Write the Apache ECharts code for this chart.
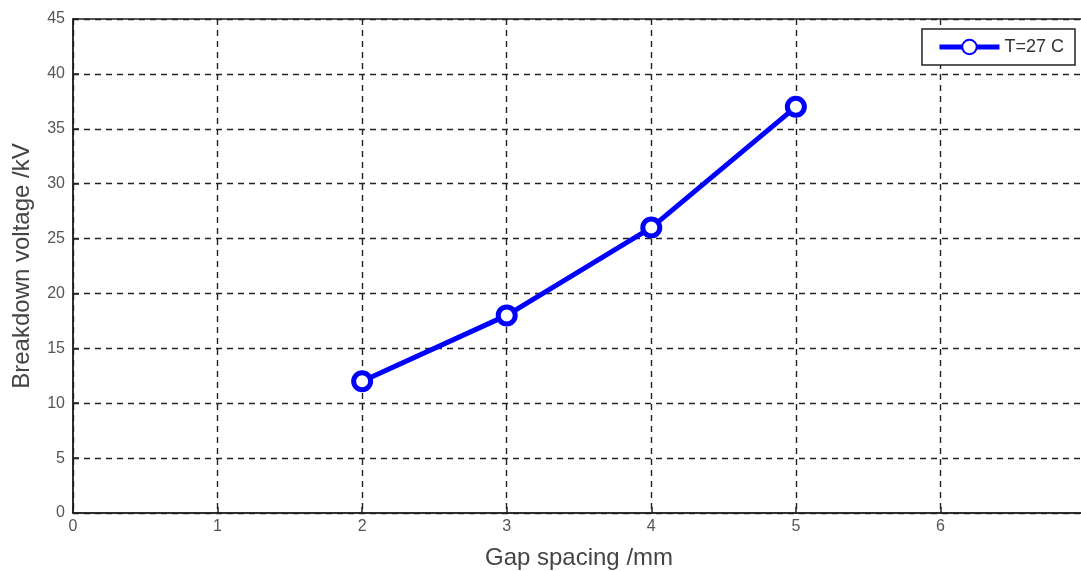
<!DOCTYPE html>
<html><head><meta charset="utf-8">
<script src="https://cdn.jsdelivr.net/npm/echarts@6/dist/echarts.min.js"></script>
<style>html,body{margin:0;padding:0;background:#fff}#c{width:1081px;height:571px}</style>
</head><body><div id="c"></div>
<script>
const gapSpacing = [2, 3, 4, 5];
const breakdownVoltage = [12, 18, 26, 37];
const seriesName = 'T=27 C';
const xTitle = 'Gap spacing /mm';
const yTitle = 'Breakdown voltage /kV';

const chart = echarts.init(document.getElementById('c'));
const font = 'Liberation Sans, Arial, sans-serif';
chart.setOption({
  animation: false,
  grid: { left: 73, top: 19, width: 1012, bottom: 58, show: true, borderColor: '#222', borderWidth: 1.5, outerBoundsMode: 'none', containLabel: false },
  legend: {
    right: 6, top: 29, orient: 'horizontal',
    borderColor: '#222', borderWidth: 1.5, borderRadius: 0,
    padding: [9, 11, 9, 15], itemWidth: 60, itemHeight: 18, itemGap: 6,
    backgroundColor: '#fff',
    lineStyle: { width: 5, color: '#0000ff' },
    textStyle: { fontFamily: font, fontSize: 18, color: '#333' },
    data: [seriesName]
  },
  xAxis: {
    type: 'value', min: 0, max: 7, interval: 1,
    name: xTitle, nameLocation: 'middle', nameGap: 33,
    nameTextStyle: { fontFamily: font, fontSize: 24, color: '#444' },
    axisLine: { lineStyle: { color: '#222', width: 1.5 } },
    axisTick: { inside: true, length: 6, lineStyle: { color: '#222', width: 1.5 } },
    axisLabel: { fontFamily: font, fontSize: 16, color: '#555', margin: 6 },
    splitLine: { show: true, lineStyle: { color: '#222', type: [6, 5], width: 1.4 } }
  },
  yAxis: {
    type: 'value', min: 0, max: 45, interval: 5,
    name: yTitle, nameLocation: 'middle', nameGap: 39,
    nameTextStyle: { fontFamily: font, fontSize: 24, color: '#444' },
    axisLine: { show: true, lineStyle: { color: '#222', width: 1.5 } },
    axisTick: { show: true, inside: true, length: 6, lineStyle: { color: '#222', width: 1.5 } },
    axisLabel: { fontFamily: font, fontSize: 16, color: '#555', margin: 8 },
    splitLine: { show: true, lineStyle: { color: '#222', type: [6, 5], width: 1.4 } }
  },
  series: [{
    name: seriesName, type: 'line',
    data: gapSpacing.map((x, i) => [x, breakdownVoltage[i]]),
    lineStyle: { color: '#0000ff', width: 5 },
    itemStyle: { color: '#fff', borderColor: '#0000ff', borderWidth: 5 },
    symbol: 'circle', symbolSize: 17, showSymbol: true
  }]
});
</script></body></html>
